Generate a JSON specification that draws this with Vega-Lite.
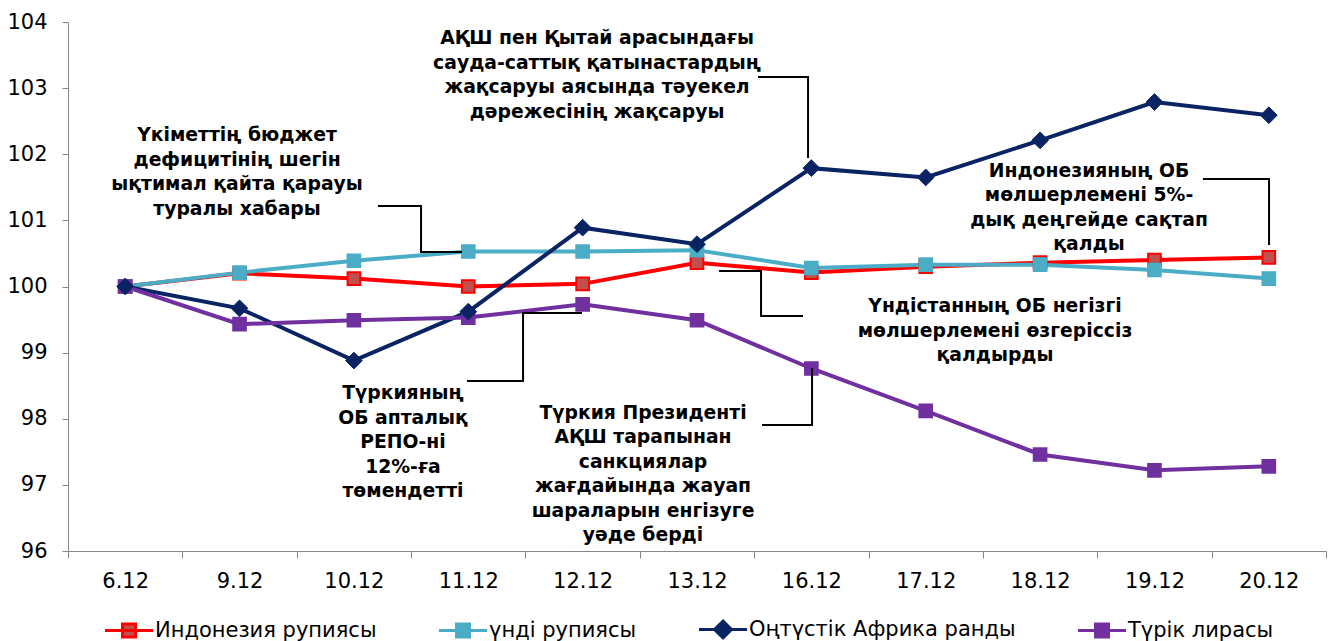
{
  "$schema": "https://vega.github.io/schema/vega-lite/v6.json",
  "width": 1258,
  "height": 529,
  "autosize": {"type": "none"},
  "padding": {"left": 68, "top": 22, "right": 2, "bottom": 90},
  "background": "white",
  "config": {"view": {"stroke": null}, "font": "DejaVu Sans"},
  "datasets": {
    "fx": [
      {"date": "6.12", "series": "Индонезия рупиясы", "value": 100},
      {"date": "9.12", "series": "Индонезия рупиясы", "value": 100.2},
      {"date": "10.12", "series": "Индонезия рупиясы", "value": 100.12},
      {"date": "11.12", "series": "Индонезия рупиясы", "value": 100.0},
      {"date": "12.12", "series": "Индонезия рупиясы", "value": 100.04},
      {"date": "13.12", "series": "Индонезия рупиясы", "value": 100.36},
      {"date": "16.12", "series": "Индонезия рупиясы", "value": 100.21},
      {"date": "17.12", "series": "Индонезия рупиясы", "value": 100.3},
      {"date": "18.12", "series": "Индонезия рупиясы", "value": 100.36},
      {"date": "19.12", "series": "Индонезия рупиясы", "value": 100.4},
      {"date": "20.12", "series": "Индонезия рупиясы", "value": 100.44},
      {"date": "6.12", "series": "үнді рупиясы", "value": 100},
      {"date": "9.12", "series": "үнді рупиясы", "value": 100.21},
      {"date": "10.12", "series": "үнді рупиясы", "value": 100.39},
      {"date": "11.12", "series": "үнді рупиясы", "value": 100.53},
      {"date": "12.12", "series": "үнді рупиясы", "value": 100.53},
      {"date": "13.12", "series": "үнді рупиясы", "value": 100.55},
      {"date": "16.12", "series": "үнді рупиясы", "value": 100.28},
      {"date": "17.12", "series": "үнді рупиясы", "value": 100.33},
      {"date": "18.12", "series": "үнді рупиясы", "value": 100.33},
      {"date": "19.12", "series": "үнді рупиясы", "value": 100.25},
      {"date": "20.12", "series": "үнді рупиясы", "value": 100.12},
      {"date": "6.12", "series": "Оңтүстік Африка ранды", "value": 100},
      {"date": "9.12", "series": "Оңтүстік Африка ранды", "value": 99.67},
      {"date": "10.12", "series": "Оңтүстік Африка ранды", "value": 98.88},
      {"date": "11.12", "series": "Оңтүстік Африка ранды", "value": 99.62},
      {"date": "12.12", "series": "Оңтүстік Африка ранды", "value": 100.89},
      {"date": "13.12", "series": "Оңтүстік Африка ранды", "value": 100.64},
      {"date": "16.12", "series": "Оңтүстік Африка ранды", "value": 101.79},
      {"date": "17.12", "series": "Оңтүстік Африка ранды", "value": 101.65},
      {"date": "18.12", "series": "Оңтүстік Африка ранды", "value": 102.21},
      {"date": "19.12", "series": "Оңтүстік Африка ранды", "value": 102.79},
      {"date": "20.12", "series": "Оңтүстік Африка ранды", "value": 102.59},
      {"date": "6.12", "series": "Түрік лирасы", "value": 100},
      {"date": "9.12", "series": "Түрік лирасы", "value": 99.43},
      {"date": "10.12", "series": "Түрік лирасы", "value": 99.49},
      {"date": "11.12", "series": "Түрік лирасы", "value": 99.53},
      {"date": "12.12", "series": "Түрік лирасы", "value": 99.73},
      {"date": "13.12", "series": "Түрік лирасы", "value": 99.49},
      {"date": "16.12", "series": "Түрік лирасы", "value": 98.76},
      {"date": "17.12", "series": "Түрік лирасы", "value": 98.12},
      {"date": "18.12", "series": "Түрік лирасы", "value": 97.46},
      {"date": "19.12", "series": "Түрік лирасы", "value": 97.22},
      {"date": "20.12", "series": "Түрік лирасы", "value": 97.28}
    ],
    "notes": [
      {"ax": 4.126, "ay": 103.754, "lines": ["АҚШ пен Қытай арасындағы", "сауда-саттық қатынастардың", "жақсаруы аясында тәуекел", "дәрежесінің жақсаруы"]},
      {"ax": 0.978, "ay": 102.291, "lines": ["Үкіметтің бюджет", "дефицитінің шегін", "ықтимал қайта қарауы", "туралы хабары"]},
      {"ax": 8.428, "ay": 101.747, "lines": ["Индонезияның ОБ", "мөлшерлемені 5%-", "дық деңгейде сақтап", "қалды"]},
      {"ax": 7.606, "ay": 99.705, "lines": ["Үндістанның ОБ  негізгі", "мөлшерлемені өзгеріссіз", "қалдырды"]},
      {"ax": 2.429, "ay": 98.389, "lines": ["Түркияның", "ОБ  апталық", "РЕПО-ні", "12%-ға", "төмендетті"]},
      {"ax": 4.528, "ay": 98.087, "lines": ["Түркия Президенті", "АҚШ тарапынан", "санкциялар", "жағдайында жауап", "шараларын енгізуге", "уәде берді"]}
    ],
    "links": [
      {"id": 1, "k": 1, "lx": 5.533, "ly": 103.168},
      {"id": 1, "k": 2, "lx": 5.971, "ly": 103.168},
      {"id": 1, "k": 3, "lx": 5.971, "ly": 101.943},
      {"id": 2, "k": 1, "lx": 2.211, "ly": 101.217},
      {"id": 2, "k": 2, "lx": 2.587, "ly": 101.217},
      {"id": 2, "k": 3, "lx": 2.587, "ly": 100.522},
      {"id": 2, "k": 4, "lx": 2.945, "ly": 100.522},
      {"id": 3, "k": 1, "lx": 9.424, "ly": 101.626},
      {"id": 3, "k": 2, "lx": 10.002, "ly": 101.626},
      {"id": 3, "k": 3, "lx": 10.002, "ly": 100.628},
      {"id": 4, "k": 1, "lx": 5.192, "ly": 100.234},
      {"id": 4, "k": 2, "lx": 5.56, "ly": 100.234},
      {"id": 4, "k": 3, "lx": 5.56, "ly": 99.554},
      {"id": 4, "k": 4, "lx": 5.927, "ly": 99.554},
      {"id": 5, "k": 1, "lx": 2.989, "ly": 98.571},
      {"id": 5, "k": 2, "lx": 3.479, "ly": 98.571},
      {"id": 5, "k": 3, "lx": 3.479, "ly": 99.599},
      {"id": 5, "k": 4, "lx": 3.994, "ly": 99.599},
      {"id": 6, "k": 1, "lx": 5.568, "ly": 97.905},
      {"id": 6, "k": 2, "lx": 6.006, "ly": 97.905},
      {"id": 6, "k": 3, "lx": 6.006, "ly": 98.767}
    ]
  },
  "resolve": {"scale": {"x": "independent"}},
  "layer": [
    {
      "data": {"name": "fx"},
      "mark": {"type": "line", "strokeWidth": 4, "clip": false},
      "encoding": {
        "x": {
          "field": "date",
          "type": "ordinal",
          "sort": null,
          "scale": {"type": "band", "paddingInner": 0, "paddingOuter": 0, "domain": ["6.12", "9.12", "10.12", "11.12", "12.12", "13.12", "16.12", "17.12", "18.12", "19.12", "20.12"]},
          "axis": {
            "title": null,
            "tickBand": "extent",
            "tickSize": 7,
            "tickColor": "#868686",
            "domainColor": "#868686",
            "labelFontSize": 21,
            "labelColor": "#000000",
            "labelPadding": 12,
            "labelAngle": 0,
            "grid": false
          }
        },
        "y": {
          "field": "value",
          "type": "quantitative",
          "scale": {"domain": [96, 104], "nice": false, "zero": false},
          "axis": {
            "title": null,
            "values": [96, 97, 98, 99, 100, 101, 102, 103, 104],
            "format": ".0f",
            "tickSize": 6,
            "tickColor": "#868686",
            "domainColor": "#868686",
            "labelFontSize": 21,
            "labelColor": "#000000",
            "labelPadding": 15,
            "grid": false
          }
        },
        "color": {
          "field": "series",
          "type": "nominal",
          "scale": {
            "domain": ["Түрік лирасы", "Оңтүстік Африка ранды", "үнді рупиясы", "Индонезия рупиясы"],
            "range": ["#7030a0", "#0a2463", "#4bacc6", "#ff0000"]
          },
          "legend": null
        }
      }
    },
    {
      "data": {"name": "fx"},
      "transform": [{"filter": "datum.series !== 'Оңтүстік Африка ранды'"}],
      "mark": {"type": "point", "shape": "square", "filled": true, "size": 160, "strokeWidth": 2, "opacity": 1},
      "encoding": {
        "x": {"field": "date", "type": "ordinal", "sort": null, "scale": {"type": "band", "paddingInner": 0, "paddingOuter": 0, "domain": ["6.12", "9.12", "10.12", "11.12", "12.12", "13.12", "16.12", "17.12", "18.12", "19.12", "20.12"]}, "axis": null},
        "y": {"field": "value", "type": "quantitative"},
        "fill": {
          "field": "series",
          "type": "nominal",
          "scale": {
            "domain": ["Индонезия рупиясы", "үнді рупиясы", "Оңтүстік Африка ранды", "Түрік лирасы"],
            "range": ["#c0504d", "#4bacc6", "#0a2463", "#7030a0"]
          }
        },
        "stroke": {
          "field": "series",
          "type": "nominal",
          "scale": {
            "domain": ["Индонезия рупиясы", "үнді рупиясы", "Оңтүстік Африка ранды", "Түрік лирасы"],
            "range": ["#ff0000", "#4bacc6", "#0a2463", "#7030a0"]
          }
        }
      }
    },
    {
      "data": {"name": "fx"},
      "transform": [{"filter": "datum.series === 'Оңтүстік Африка ранды'"}],
      "mark": {"type": "point", "shape": "diamond", "filled": true, "size": 280, "strokeWidth": 1, "opacity": 1},
      "encoding": {
        "x": {"field": "date", "type": "ordinal", "sort": null, "scale": {"type": "band", "paddingInner": 0, "paddingOuter": 0, "domain": ["6.12", "9.12", "10.12", "11.12", "12.12", "13.12", "16.12", "17.12", "18.12", "19.12", "20.12"]}, "axis": null},
        "y": {"field": "value", "type": "quantitative"},
        "fill": {"field": "series", "type": "nominal"},
        "stroke": {"field": "series", "type": "nominal"}
      }
    },
    {
      "data": {"name": "fx"},
      "mark": {"type": "point", "filled": true, "opacity": 0, "strokeWidth": 3},
      "encoding": {
        "x": {"field": "date", "type": "ordinal", "sort": null, "scale": {"type": "band", "paddingInner": 0, "paddingOuter": 0, "domain": ["6.12", "9.12", "10.12", "11.12", "12.12", "13.12", "16.12", "17.12", "18.12", "19.12", "20.12"]}, "axis": null},
        "y": {"field": "value", "type": "quantitative"},
        "fill": {
          "field": "series", "type": "nominal",
          "legend": {"title": null, "orient": "none", "legendX": 45, "legendY": 597, "direction": "horizontal", "columns": 4, "columnPadding": 55, "labelFontSize": 21, "labelColor": "#000000", "labelOffset": 21, "labelLimit": 500, "symbolSize": 169, "symbolStrokeWidth": 3, "symbolOpacity": 1, "padding": 0}
        },
        "stroke": {
          "field": "series", "type": "nominal",
          "legend": {"title": null, "orient": "none", "legendX": 45, "legendY": 597, "direction": "horizontal", "columns": 4, "columnPadding": 55, "labelFontSize": 21, "labelColor": "#000000", "labelOffset": 21, "labelLimit": 500, "symbolSize": 169, "symbolStrokeWidth": 3, "symbolOpacity": 1, "padding": 0}
        },
        "shape": {
          "field": "series",
          "type": "nominal",
          "scale": {
            "domain": ["Индонезия рупиясы", "үнді рупиясы", "Оңтүстік Африка ранды", "Түрік лирасы"],
            "range": [
              "M-2.85,0H4.55M-0.15,-1H1.85V1H-0.15Z",
              "M-2.85,0H4.55M-0.15,-1H1.85V1H-0.15Z",
              "M-2.85,0H4.55M0.85,-1.3L2.15,0L0.85,1.3L-0.45,0Z",
              "M-2.85,0H4.55M-0.15,-1H1.85V1H-0.15Z"
            ]
          },
          "legend": {"title": null, "orient": "none", "legendX": 45, "legendY": 597, "direction": "horizontal", "columns": 4, "columnPadding": 55, "labelFontSize": 21, "labelColor": "#000000", "labelOffset": 21, "labelLimit": 500, "symbolSize": 169, "symbolStrokeWidth": 3, "symbolOpacity": 1, "padding": 0}
        }
      }
    },
    {
      "data": {"name": "links"},
      "mark": {"type": "line", "color": "#000000", "strokeWidth": 2, "clip": false},
      "encoding": {
        "x": {"field": "lx", "type": "quantitative", "scale": {"domain": [-0.5, 10.5], "nice": false, "zero": false}, "axis": null},
        "y": {"field": "ly", "type": "quantitative"},
        "detail": {"field": "id", "type": "nominal"},
        "order": {"field": "k", "type": "quantitative"}
      }
    },
    {
      "data": {"name": "notes"},
      "mark": {"type": "text", "font": "DejaVu Sans", "fontWeight": "bold", "fontSize": 18.8, "lineHeight": 24.5, "align": "center", "baseline": "middle", "color": "#000000"},
      "encoding": {
        "x": {"field": "ax", "type": "quantitative", "scale": {"domain": [-0.5, 10.5], "nice": false, "zero": false}, "axis": null},
        "y": {"field": "ay", "type": "quantitative"},
        "text": {"field": "lines"}
      }
    }
  ]
}
